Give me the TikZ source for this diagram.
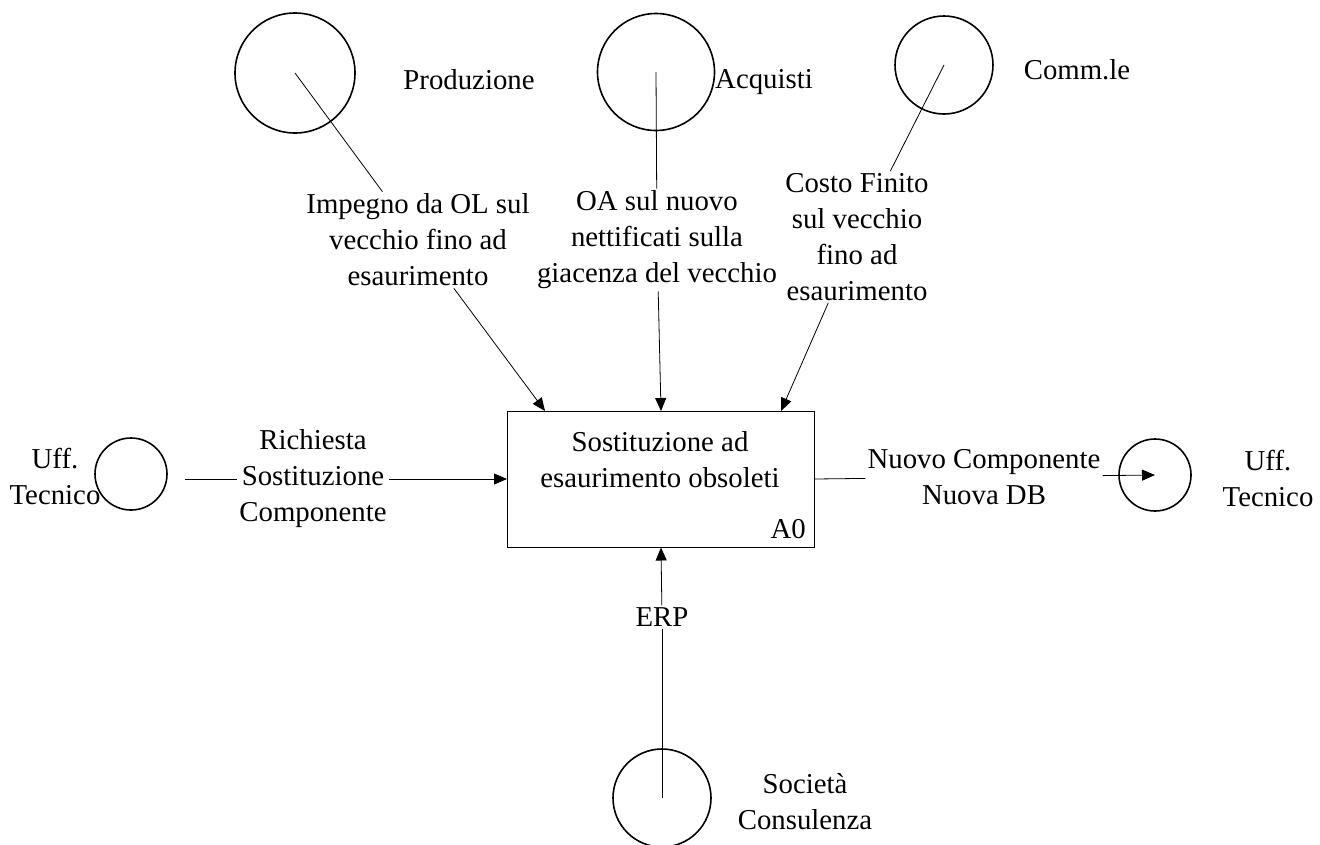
\documentclass[tikz,border=0pt]{standalone}
\usepackage{fontspec}
\setmainfont{Liberation Serif}
\usetikzlibrary{arrows.meta,calc}
\begin{document}
\begin{tikzpicture}[x=1pt,y=-1pt,>={Triangle[length=13pt,width=11pt]},
  font=\fontsize{28.8}{36}\selectfont,
  ent/.style={draw,circle,line width=1.6pt,inner sep=0pt},
  lab/.style={align=center,inner sep=2pt},
  conn/.style={line width=0.8pt}]
\useasboundingbox (0,0) rectangle (1320,844);
% entita'
\node[ent,minimum size=120pt](prod) at (295,73){};
\node[ent,minimum size=117pt](acq) at (656,72){};
\node[ent,minimum size=98pt](comm) at (944,65){};
\node[ent,minimum size=72pt](uffL) at (131,474){};
\node[ent,minimum size=72pt](uffR) at (1155,475){};
\node[ent,minimum size=98pt](soc) at (662,798){};
\node at (469,80){Produzione};
\node at (764,82){Acquisti};
\node at (1077,70){Comm.le};
\node[lab] at (55,476){Uff.\\Tecnico};
\node[lab] at (1268,478){Uff.\\Tecnico};
\node[lab] at (805,802){Società\\Consulenza};
% attivita'
\node[draw,line width=1pt,minimum width=307pt,minimum height=136pt](box) at (661,479){};
\node[lab] at (660,460){Sostituzione ad\\esaurimento obsoleti};
\node[anchor=south east,inner sep=0pt] at ($(box.south east)+(-9,-9)$){A0};
% flussi
\node[lab](lab1) at (418,240){Impegno da OL sul\\vecchio fino ad\\esaurimento};
\node[lab](lab2) at (657,240){OA sul nuovo\\nettificati sulla\\giacenza del vecchio};
\node[lab](lab3) at (857,237){Costo Finito\\sul vecchio\\fino ad\\esaurimento};
\node[lab](lab4) at (313,479){Richiesta\\Sostituzione\\Componente};
\node[lab](lab5) at (984,477){Nuovo Componente\\Nuova DB};
\node[lab](erp) at (662,617){ERP};
\coordinate (t1) at (545,411);
\coordinate (t2) at (661,411);
\coordinate (t3) at (781,411);
\coordinate (s4) at (185,479);
\draw[conn](prod.center)--(lab1);
\draw[conn,->](lab1)--(t1);
\draw[conn](acq.center)--(lab2);
\draw[conn,->](lab2)--(t2);
\draw[conn](comm.center)--(lab3);
\draw[conn,->](lab3)--(t3);
\draw[conn](s4)--(lab4);
\draw[conn,->](lab4)--(box.west);
\draw[conn](box.east)--(lab5);
\draw[conn,->](lab5)--(uffR.center);
\draw[conn](soc.center)--(erp);
\draw[conn,->](erp)--(box.south);
\end{tikzpicture}
\end{document}
